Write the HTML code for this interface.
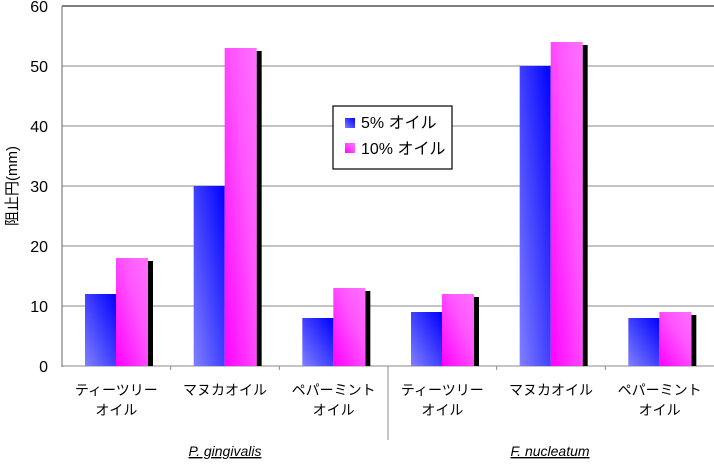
<!DOCTYPE html>
<html><head><meta charset="utf-8"><style>
body{margin:0;background:#fff;}
svg text{font-family:"Liberation Sans","Noto Sans CJK JP",sans-serif;}
</style></head><body>
<svg width="714" height="460" viewBox="0 0 714 460">
<defs>
<linearGradient id="gb" x1="0" y1="1" x2="1" y2="0"><stop offset="0" stop-color="#8080ff"/><stop offset="1" stop-color="#0000ff"/></linearGradient>
<linearGradient id="gp" x1="0" y1="1" x2="1" y2="0"><stop offset="0" stop-color="#ff00ff"/><stop offset="0.6" stop-color="#ff55ff"/><stop offset="1" stop-color="#ff70ff"/></linearGradient>
</defs>
<g id="grid"></g><g id="bars"></g><g id="axes"></g>
<g>
<rect x="333" y="106" width="119" height="63" fill="#fff" stroke="#000" stroke-width="1.2"/>
<rect x="345" y="118" width="10" height="10" fill="url(#gb)"/>
<text x="361" y="128" font-size="16">5% オイル</text>
<rect x="345" y="143" width="10" height="10" fill="url(#gp)"/>
<text x="361" y="154" font-size="16">10% オイル</text>
</g>
<text transform="translate(17,186) rotate(-90)" text-anchor="middle" font-size="15">阻止円(mm)</text>
<line x1="388" y1="367" x2="388" y2="440" stroke="#888"/>
<text x="225" y="456" text-anchor="middle" font-size="14" font-style="italic" text-decoration="underline">P. gingivalis</text>
<text x="550" y="456" text-anchor="middle" font-size="14" font-style="italic" text-decoration="underline">F. nucleatum</text>
</svg>
<script>
const categories=[["ティーツリー","オイル"],["マヌカオイル",""],["ペパーミント","オイル"],["ティーツリー","オイル"],["マヌカオイル",""],["ペパーミント","オイル"]];
const series5=[12,30,8,9,50,8];
const series10=[18,53,13,12,54,9];
const yTicks=[0,10,20,30,40,50,60];
const NS="http://www.w3.org/2000/svg";
const L=62,R=714,T=6,B=366,yMax=60;
const y=v=>B-(v/yMax)*(B-T);
const cw=(R-L)/categories.length;
const x=i=>L+i*cw;
function mk(tag,attrs,parent){const e=document.createElementNS(NS,tag);for(const k in attrs)e.setAttribute(k,attrs[k]);document.getElementById(parent).appendChild(e);return e;}
yTicks.forEach((t,i)=>{
 const g=mk('line',{x1:L,x2:R,y1:y(t),y2:y(t),stroke:t===60?'#000':'#888','stroke-width':1},'grid');
 
 
 const tx=mk('text',{x:L-14,y:y(t)+6,'text-anchor':'end','font-size':16},'axes');
 tx.textContent=t;
 
 
});
const ax=mk('line',{x1:L,x2:L,y1:T,y2:B+1,stroke:'#666'},'axes');


categories.forEach((c,i)=>{
 const x0=x(i);
 const b1=mk('rect',{x:x0+23,y:y(series5[i]),width:31,height:B-y(series5[i]),fill:'url(#gb)'},'bars');
 
 
 const sh=mk('rect',{x:x0+86,y:y(series10[i])+3,width:5,height:B-y(series10[i])-3,fill:'#000'},'bars');
 
 
 const b2=mk('rect',{x:x0+54,y:y(series10[i]),width:32,height:B-y(series10[i]),fill:'url(#gp)'},'bars');
 
 
 if(i>0){const tk=mk('line',{x1:x0,x2:x0,y1:B,y2:B+4,stroke:'#888'},'axes');
 
 }
 const t1=mk('text',{x:x0+cw/2,y:395,'text-anchor':'middle','font-size':14},'axes');
 t1.textContent=c[0];
 
 
 if(c[1]){const t2=mk('text',{x:x0+cw/2,y:415,'text-anchor':'middle','font-size':14},'axes');
 t2.textContent=c[1];
 
 }
});
</script>
</body></html>
